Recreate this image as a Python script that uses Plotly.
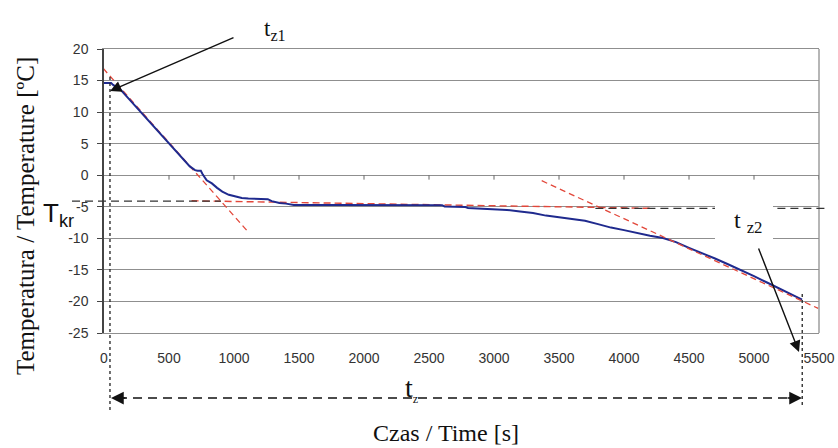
import plotly.graph_objects as go

# ---------------- data ----------------
time_s = [0, 55, 70, 125, 200, 300, 400, 500, 600, 660, 700, 720, 745, 760, 790, 830, 870, 910,
          960, 1010, 1060, 1110, 1150, 1200, 1260, 1290, 1350, 1400, 1460, 1800, 2200, 2600,
          2620, 2780, 2800, 3000, 3100, 3200, 3300, 3400, 3500, 3600, 3700, 3800, 3900, 4000,
          4100, 4200, 4300, 4400, 4500, 4600, 4700, 4800, 4900, 5000, 5100, 5200, 5300, 5370]
temp_c = [14.6, 14.6, 14.3, 13.6, 11.9, 9.6, 7.3, 5.0, 2.7, 1.4, 0.8, 0.7, 0.7, 0.1, -0.8, -1.3,
          -2.0, -2.6, -3.1, -3.4, -3.6, -3.7, -3.7, -3.8, -3.8, -4.1, -4.4, -4.5, -4.7, -4.7,
          -4.7, -4.75, -4.95, -5.05, -5.2, -5.35, -5.5, -5.75, -6.0, -6.4, -6.65, -6.95, -7.2,
          -7.75, -8.3, -8.7, -9.2, -9.6, -9.95, -10.6, -11.5, -12.3, -13.2, -14.1, -15.0,
          -16.0, -17.0, -18.0, -18.9, -19.7]

# fitted (red dashed) lines
fit1_t = [-57, 1110]
fit1_T = [18.1, -9.0]
fit2_t = [674, 4226]
fit2_T = [-4.05, -5.25]
fit3_t = [3367, 5494]
fit3_T = [-0.87, -21.1]

# characteristic values
t_z1 = 46
t_z2 = 5371
T_kr_left = -4.1
T_kr_right = -5.25

x_ticks = [0, 500, 1000, 1500, 2000, 2500, 3000, 3500, 4000, 4500, 5000, 5500]
y_ticks = [20, 15, 10, 5, 0, -5, -10, -15, -20, -25]
X_RANGE = [0, 5500]
Y_RANGE = [-25, 20]

# ---------------- layout helpers ----------------
W, H = 838, 448
L, R, TOP, BOT = 104, 819, 49, 333


def px(xp):
    return (xp - L) / (R - L)


def py(yp):
    return (BOT - yp) / (BOT - TOP)


def t2paper(t):
    return (t - X_RANGE[0]) / (X_RANGE[1] - X_RANGE[0])


SERIF = "Liberation Serif, Times New Roman, serif"
SANS = "Liberation Sans, Arial, sans-serif"
NARROW = "Liberation Sans Narrow, Arial Narrow, Liberation Sans, sans-serif"
RED = "#e2473a"
BLUE = "#1f2a8e"
GRID = "#8f8f8f"

fig = go.Figure()

fig.add_trace(go.Scatter(x=fit1_t, y=fit1_T, mode="lines",
                         line=dict(color=RED, width=1.3, dash="6px,4px"), showlegend=False))
fig.add_trace(go.Scatter(x=fit2_t, y=fit2_T, mode="lines",
                         line=dict(color=RED, width=1.4, dash="7px,4px"), showlegend=False))
fig.add_trace(go.Scatter(x=time_s, y=temp_c, mode="lines",
                         line=dict(color=BLUE, width=2), showlegend=False))
fig.add_trace(go.Scatter(x=fit3_t, y=fit3_T, mode="lines",
                         line=dict(color=RED, width=1.3, dash="6px,4px"), showlegend=False))

shapes = []
# right border
shapes.append(dict(type="line", xref="paper", yref="paper", x0=1, x1=1, y0=0, y1=1,
                   line=dict(color=GRID, width=1.3), layer="above"))
# small tick marks on the y=0 line
for tv in x_ticks[1:]:
    shapes.append(dict(type="line", xref="x", yref="y", x0=tv, x1=tv, y0=0, y1=-0.7,
                       line=dict(color="#666", width=1)))
# T_kr dashed lines
shapes.append(dict(type="line", xref="paper", yref="y", x0=px(72), x1=t2paper(900),
                   y0=T_kr_left, y1=T_kr_left,
                   line=dict(color="#333", width=1.3, dash="8px,5px"), layer="above"))
shapes.append(dict(type="line", xref="paper", yref="y", x0=t2paper(3780), x1=px(826),
                   y0=T_kr_right, y1=T_kr_right,
                   line=dict(color="#333", width=1.3, dash="8px,5px"), layer="above"))
# white box behind t_z2 label
shapes.append(dict(type="rect", xref="paper", yref="paper", x0=px(715), x1=px(773),
                   y0=py(256), y1=py(193), fillcolor="white", line=dict(width=0), layer="above"))
# vertical dotted lines at t_z1 and t_z2
shapes.append(dict(type="line", xref="x", yref="paper", x0=t_z1, x1=t_z1, y0=py(410), y1=py(77),
                   line=dict(color="#222", width=1.3, dash="dot"), layer="above"))
shapes.append(dict(type="line", xref="x", yref="paper", x0=t_z2, x1=t_z2, y0=py(405), y1=py(293),
                   line=dict(color="#222", width=1.3, dash="dot"), layer="above"))
# t_z dashed arrow shaft
shapes.append(dict(type="line", xref="paper", yref="paper", x0=px(118), x1=px(796),
                   y0=py(398), y1=py(398),
                   line=dict(color="#111", width=1.5, dash="9px,6px"), layer="above"))

annotations = [
    # arrows
    dict(xref="paper", yref="paper", x=px(110), y=py(91), ax=125, ay=-54, axref="pixel",
         ayref="pixel", text="", showarrow=True, arrowhead=2, arrowsize=1.6, arrowwidth=1.4,
         arrowcolor="#111"),
    dict(xref="paper", yref="paper", x=px(799), y=py(352), ax=-41, ay=-105, axref="pixel",
         ayref="pixel", text="", showarrow=True, arrowhead=2, arrowsize=1.6, arrowwidth=1.4,
         arrowcolor="#111"),
    dict(xref="paper", yref="paper", x=px(111), y=py(398), ax=16, ay=0, text="", showarrow=True,
         arrowhead=2, arrowsize=1.7, arrowwidth=1.5, arrowcolor="#111"),
    dict(xref="paper", yref="paper", x=px(802), y=py(398), ax=-16, ay=0, text="", showarrow=True,
         arrowhead=2, arrowsize=1.7, arrowwidth=1.5, arrowcolor="#111"),
    # labels
    dict(xref="paper", yref="paper", x=px(262), xanchor="left", y=py(30), yanchor="middle",
         text="t<sub>z1</sub>", showarrow=False, font=dict(family=SERIF, size=23, color="#111")),
    dict(xref="paper", yref="paper", x=px(732), xanchor="left", y=py(222), yanchor="middle",
         text="t <sub>z2</sub>", showarrow=False, font=dict(family=SERIF, size=24, color="#111")),
    dict(xref="paper", yref="paper", x=px(403), xanchor="left", y=py(389), yanchor="middle",
         text="t<sub><span style='font-size:12px'>z</span></sub>", showarrow=False,
         font=dict(family=SERIF, size=28, color="#111")),
    dict(xref="paper", yref="paper", x=px(41), xanchor="left", y=py(214), yanchor="middle",
         text="T<sub>kr</sub>", showarrow=False, font=dict(family=NARROW, size=26, color="#111")),
    dict(xref="paper", yref="paper", x=px(25), xanchor="center", y=py(216), yanchor="middle",
         text="Temperatura / Temperature [ºC]", textangle=-90, showarrow=False,
         font=dict(family=SERIF, size=25, color="#111")),
    dict(xref="paper", yref="paper", x=px(446), xanchor="center", y=py(433), yanchor="middle",
         text="Czas / Time [s]", showarrow=False, font=dict(family=SERIF, size=24, color="#111")),
]

fig.update_layout(
    width=W, height=H,
    margin=dict(l=L, r=W - R, t=TOP, b=H - BOT, autoexpand=False),
    paper_bgcolor="white", plot_bgcolor="white",
    showlegend=False,
    shapes=shapes, annotations=annotations,
    xaxis=dict(range=X_RANGE, tickvals=x_ticks, ticktext=[str(v) for v in x_ticks],
               showgrid=False, zeroline=False, showline=True, mirror=True,
               linecolor=GRID, linewidth=1.3, ticks="", ticklabelstandoff=12,
               tickfont=dict(family=SANS, size=14, color="#333"), automargin=False),
    yaxis=dict(range=Y_RANGE, tickvals=y_ticks, ticktext=[str(v) for v in y_ticks],
               showgrid=True, gridcolor=GRID, gridwidth=1.3, zeroline=False,
               showline=True, linecolor="#444", linewidth=1.5,
               ticks="outside", ticklen=5, tickcolor="#444", ticklabelstandoff=6,
               tickfont=dict(family=SANS, size=14, color="#333"), automargin=False),
)

fig.write_html("out.html", config={"displayModeBar": False},
               post_script="document.body.style.margin='0';")
